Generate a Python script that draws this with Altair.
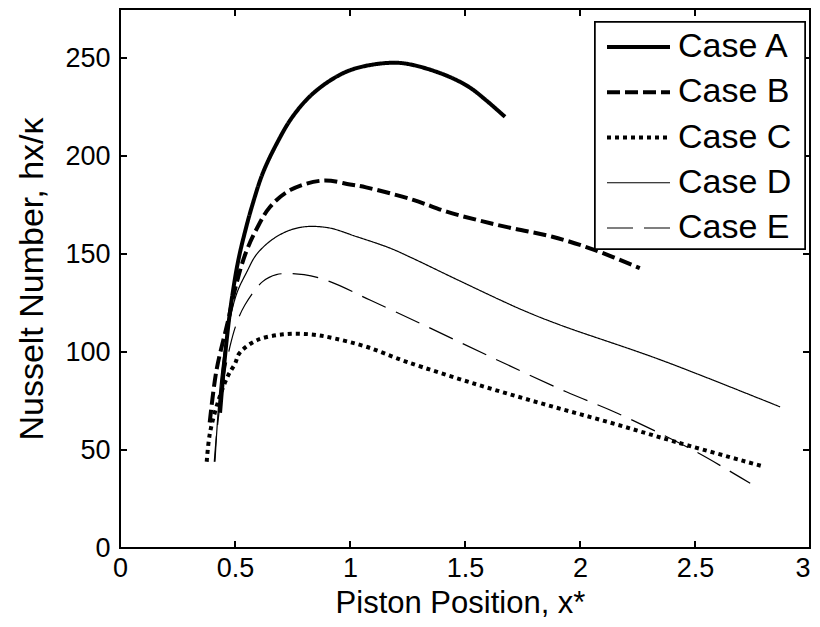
import altair as alt
import pandas as pd

FONT = "Liberation Sans"

cases = ["Case A", "Case B", "Case C", "Case D", "Case E"]

a_x = [0.435, 0.455, 0.48, 0.513, 0.545, 0.573, 0.62, 0.68, 0.75, 0.84, 0.957, 1.05, 1.19, 1.275, 1.42, 1.52, 1.59, 1.674]
a_y = [69, 96, 122, 146, 162, 174, 191, 206, 220, 232, 241.5, 245.5, 247.6, 246.4, 241, 235, 228.6, 220]

b_x = [0.39, 0.42, 0.47, 0.5, 0.545, 0.595, 0.652, 0.74, 0.883, 1.0, 1.07, 1.275, 1.42, 1.565, 1.71, 1.88, 2.065, 2.26]
b_y = [64, 91, 116, 132, 150, 163, 174, 182.6, 187.5, 185.5, 184, 177.6, 171.6, 167, 163, 158.8, 152, 142.8]

c_x = [0.377, 0.391, 0.43, 0.47, 0.5, 0.52, 0.595, 0.71, 0.83, 0.93, 1.07, 1.246, 1.55, 1.84, 2.13, 2.42, 2.8]
c_y = [44, 58.6, 76, 88, 94, 99.5, 106, 109, 109, 107, 102.7, 95, 83.5, 73.5, 64, 54, 41.5]

d_x = [0.413, 0.42, 0.44, 0.47, 0.508, 0.552, 0.595, 0.68, 0.78, 0.9, 1.03, 1.174, 1.26, 1.5, 1.75, 1.913, 2.35, 2.87]
d_y = [44, 58, 88, 112, 130, 141, 150, 158.8, 163.5, 163.5, 158.8, 153, 148.5, 135, 121.4, 113.8, 96, 72]

e_x = [0.41, 0.42, 0.445, 0.478, 0.508, 0.543, 0.62, 0.68, 0.8, 0.913, 1.087, 1.32, 1.61, 1.94, 2.16, 2.49, 2.74]
e_y = [44, 58, 82, 102.7, 115, 124, 135.9, 139.5, 139.5, 135.9, 126.5, 113.8, 97.6, 79.7, 68.9, 50, 33]

x_ticks = [0, 0.5, 1, 1.5, 2, 2.5, 3]
y_ticks = [0, 50, 100, 150, 200, 250]

dash_range = [[1, 0], [13, 5], [4, 4], [1, 0], [26, 11]]
width_range = [4, 4, 4, 1.2, 1.2]

rows = []
for name, xs, ys in zip(cases, [a_x, b_x, c_x, d_x, e_x], [a_y, b_y, c_y, d_y, e_y]):
    for x, y in zip(xs, ys):
        rows.append({"case": name, "x": x, "nu": y})
df = pd.DataFrame(rows)

xscale = alt.Scale(domain=[0, 3], nice=False, zero=False)
yscale = alt.Scale(domain=[0, 275], nice=False, zero=False)
dash_scale = alt.Scale(domain=cases, range=dash_range)
width_scale = alt.Scale(type="ordinal", domain=cases, range=width_range)

x_axis = alt.Axis(
    values=x_ticks, format="~g", ticks=False, domain=False, grid=False,
    labelFontSize=27, labelFont=FONT, labelColor="black", labelPadding=7,
    labelFlush=False,
    labelAlign={"expr": "datum.value >= 3 ? 'right' : 'center'"},
    title="Piston Position, x*", titleFontSize=31, titleFont=FONT,
    titleFontWeight="normal", titleColor="black", titleX=340, titleY=64,
    titleAlign="center", titleBaseline="alphabetic")
y_axis = alt.Axis(
    values=y_ticks, ticks=False, domain=False, grid=False,
    labelFontSize=27, labelFont=FONT, labelColor="black", labelPadding=10,
    title="Nusselt Number, hx/κ", titleFontSize=34, titleFont=FONT,
    titleFontWeight="normal", titleColor="black", titleX=-78, titleY=269.5,
    titleAngle=270, titleAlign="center", titleBaseline="alphabetic")

lines = alt.Chart(df).mark_line(color="black", interpolate="catmull-rom").encode(
    x=alt.X("x:Q", scale=xscale, axis=x_axis),
    y=alt.Y("nu:Q", scale=yscale, axis=y_axis),
    strokeDash=alt.StrokeDash("case:N", scale=dash_scale, legend=None),
    strokeWidth=alt.StrokeWidth("case:N", scale=width_scale, legend=None),
)

xt = pd.DataFrame({"x": x_ticks})
yt = pd.DataFrame({"nu": y_ticks})

bottom = alt.Chart(xt).mark_rule(color="black", strokeWidth=2).encode(
    x=alt.X("x:Q", scale=xscale, axis=x_axis), y=alt.value(539), y2=alt.value(532))
top = alt.Chart(xt).mark_rule(color="black", strokeWidth=2).encode(
    x=alt.X("x:Q", scale=xscale, axis=x_axis), y=alt.value(0), y2=alt.value(7))
left = alt.Chart(yt).mark_rule(color="black", strokeWidth=2).encode(
    y=alt.Y("nu:Q", scale=yscale, axis=y_axis), x=alt.value(0), x2=alt.value(7))
right = alt.Chart(yt).mark_rule(color="black", strokeWidth=2).encode(
    y=alt.Y("nu:Q", scale=yscale, axis=y_axis), x=alt.value(690), x2=alt.value(683))

plot = alt.layer(lines, bottom, top, left, right)

# legend (drawn as marks)
leg_df = pd.DataFrame({"case": cases})
leg_y = alt.Y("case:N", scale=alt.Scale(type="point", domain=cases, range=[38, 219], padding=0), axis=None)

leg_box = alt.Chart(leg_df).mark_rect(fill="white", stroke="black", strokeWidth=1.5).encode(
    x=alt.value(475), x2=alt.value(685), y=alt.value(13), y2=alt.value(240))
leg_lines = alt.Chart(leg_df).mark_rule(color="black").encode(
    x=alt.value(487), x2=alt.value(550), y=leg_y,
    strokeDash=alt.StrokeDash("case:N", scale=dash_scale, legend=None),
    strokeWidth=alt.StrokeWidth("case:N", scale=width_scale, legend=None),
)
leg_text = alt.Chart(leg_df).mark_text(
    align="left", baseline="middle", font=FONT, fontSize=34, color="black").encode(
    x=alt.value(558), y=leg_y, text="case:N")

legend = alt.layer(leg_box, leg_lines, leg_text)

chart = alt.layer(plot, legend).resolve_scale(y="independent").properties(
    width=690, height=539,
    padding={"left": 112, "top": 1, "right": 2, "bottom": 71},
    autosize=alt.AutoSizeParams(type="none"),
    background="white",
).configure_view(stroke="black", strokeWidth=2)

chart.save("out.html", embed_options={"renderer": "svg", "actions": False})
